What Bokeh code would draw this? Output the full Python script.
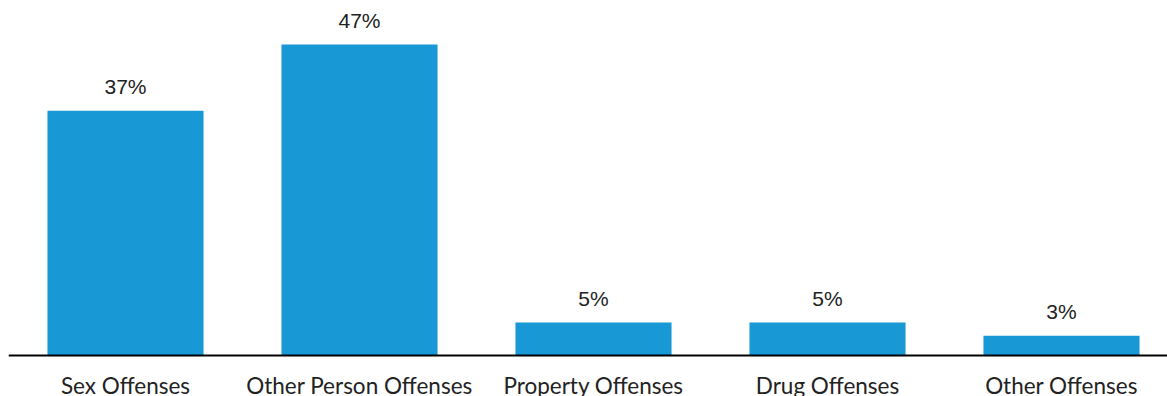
from bokeh.plotting import figure
from bokeh.models import ColumnDataSource, Range1d, Span
from bokeh.core.properties import value
from bokeh.embed import file_html
from bokeh.resources import INLINE

categories = ["Sex Offenses", "Other Person Offenses", "Property Offenses", "Drug Offenses", "Other Offenses"]
percents = [37, 47, 5, 5, 3]

xs = list(range(len(categories)))
labels = [f"{v}%" for v in percents]
src = ColumnDataSource(dict(x=xs, top=percents, label=labels, cat=categories, zero=[0] * len(xs)))

scale = 311 / 47  # px per unit
p = figure(width=1167, height=396, output_backend="svg", toolbar_location=None,
           x_range=Range1d(-0.5, -0.5 + 1159 / 234),
           y_range=Range1d(-(396 - 355) / scale, (355 - 8) / scale),
           min_border_left=8, min_border_right=0, min_border_top=8, min_border_bottom=0)

p.vbar(x="x", top="top", bottom=0, width=0.667, source=src, color="#1998d6", line_color=None)
p.text(x="x", y="top", text="label", source=src, text_align="center", text_baseline="alphabetic",
       y_offset=-24, text_font=value("Liberation Sans"), text_font_size="21px", text_color="#222222")
p.text(x="x", y="zero", text="cat", source=src, text_align="center", text_baseline="alphabetic",
       y_offset=30, text_font=value("Lato"), text_font_size="22.5px", text_color="#222222")
p.add_layout(Span(location=0, dimension="width", line_color="black", line_width=2))

p.xaxis.visible = False
p.yaxis.visible = False
p.xgrid.visible = False
p.ygrid.visible = False
p.outline_line_color = None
p.background_fill_color = None
p.border_fill_color = "white"

open("out.html", "w").write(file_html(p, INLINE))
